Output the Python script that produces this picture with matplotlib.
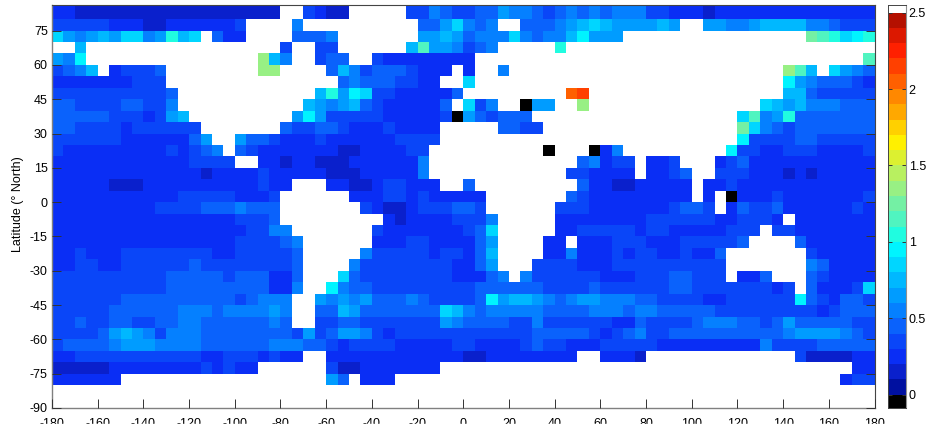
#!/usr/bin/env python
import re
import numpy as np
import matplotlib
matplotlib.use("Agg")
import matplotlib.pyplot as plt
from matplotlib.colors import ListedColormap, BoundaryNorm
from matplotlib.patches import Rectangle

plt.rcParams['font.family'] = ['Liberation Sans', 'DejaVu Sans']
plt.rcParams['axes.unicode_minus'] = False

# cells are 5 degrees wide, written as runs: "3c" = three cells of level c
# '.' = land, '#' = below zero, a = 0-0.1, b = 0.1-0.2, c = 0.2-0.3, ...
# rows run from the north (80-90) to the south (-80 to -75)
west_cells = [
    "2c18b2.dc", "5d3c2b6cd4.f2.", "igfghg2ifgkhi.e2c4.3e", "2.h17.d2.d",
    "gfj15.nhf2.d", "defh.c3de8.2n4.", "7c3d14.", "10de12.h",
    "2e4d2e2df11.hg", "5e3dcdgh9.gjg", "2e4dc6d7.e2de", "6d6ceg2.g2ed3cd",
    "d9cdcdef.ed6c", "12c4d2.2cb2cb", "13cb4cd5c", "5c3b10cd2c3.",
    "11c5d3cd4.", "9c4d3ef3e4.", "16c3de4.", "17c2d2f3.",
    "16c4def2.", "2cd3c8d2c5de2.", "2c2d2c6de8de2.", "10d5ed3e2ce2.",
    "10d9e2cf2.", "6d10ede3f2.g", "5d6e3fe4fgf2.e", "2de2d2e2d2e2f6efe2.d",
    "4deghgfd3f8edgd", "d4ef3g4f6e3f2e", "2c11d2c3dcd2c2.", "5b8cdcd2c6.",
    "6c18.",
]
middle_cells = [
    "2b5.2dfe2d2eg2fedefef", "8.2egifef2.3efghi", "f7.2ghge2ffife2fhjg", "d6.hl2gfdef5.k3.",
    "2e2.d8c11.", "ehfd3ed3c.c2.f8.", ".ef3e2d2c2.i11.", "kgji2d5ce9.uv.",
    "fghed5ce.idf2.#2g2.n.", "5d5cd#ged3e6.", "ed3cd4c5.2e2d5.", "6c4d14.",
    "c2b4c2d10.#3.#", "2b6cf13.ef", "3b5cf12.2dc", "2c2bc2d3c2.e9.ec",
    "2.3c2dcd5c7.edc", "3.dc2bc3d2ed6.3dc", "5.cb4c3df5.4c", "4.d7cdei5.2c2d",
    "4.3c2d4ceg4.2c.2c", "3.f5dc2dceh4.2cf2c", "2.f8d2ceg3.4d2c", ".ie8d3cef.f6d",
    "jf2e9d6e4de", "fgfg3efe4dejg2hgfef2g", "ehg7eihfe5f4ef", "d2e7dgf4e2df5d",
    "e2gfdc12d5ed", "dc4d5c2d4cde2d3c", "12c2b8c2.", "d2b7c14.",
    "ge.3c18.",
]
east_cells = [
    "e3f2d3cb14c", "h4ghg2.2g2fg4h2fe3d", "2g16.mlkijk", "24.",
    "23.l", "16.nlh.igfe", "16.jgf3edc", "16.2he5d",
    "14.ihgh3f3e", "12.ilfgk7e", "12.mifed7e", "12.j4d2e5d",
    "cf9.j2d2c3d4cd", "c2d.2cd3.cde11c", "3c.2cde2.3d3cbcb5c", "c2b5c.2cd12c",
    "8c.c.#3cd7cd", "6cd2ed.ce2de6cdc", "4c6d2c3dc.7c", "3dc2d5c3d.2d7c",
    "c3d3c5de4.e6c", "cdc2d2cd2ce7.d5c", "c10d7.fe4c", "3c3d2e3d.2ce3.ed4c",
    "6d2e7dcd.e3cdi", "3f2e4d2c6djedc2ed", "2fe2f5e9dcd3e", "d2ce4de3f2edeg5e2d",
    "cdef2d10ef4gfed", "5d9cf4d5e", "3cb13.d4b2c", "22.2c",
    "21.c2d",
]

colorbar_ticks = [0, 0.5, 1, 1.5, 2, 2.5]
colorbar_labels = ['0', '0.5', '1', '1.5', '2', '2.5']
level_colors = ['#000000', '#0010a0', '#0a20cc', '#0a2ef5', '#0a46f8', '#0a62fc', '#0580ff',
                '#009cff', '#00b8ff', '#00d6ff', '#00f4ff', '#20fce0', '#50f4c0', '#74f0a4',
                '#98f084', '#b8f060', '#dcf030', '#fff000', '#ffd000', '#ffa800', '#ff8800',
                '#ff6000', '#ff4000', '#ff2000', '#dc1800', '#b41000']
level_edges = np.arange(-1, 26) / 10
level_centers = (level_edges[:-1] + level_edges[1:]) / 2
codes = '#abcdefghijklmnopqrstuvwxy'


def expand(runs):
    out = ''
    for count, c in re.findall(r'(\d*)([a-z#.])', runs):
        out += c * int(count or 1)
    if len(out) != 24:
        raise ValueError(runs + ' gives ' + str(len(out)))
    return out


rows = [expand(w) + expand(m) + expand(e) for w, m, e in zip(west_cells, middle_cells, east_cells)]
values = np.array([[np.nan if c == '.' else level_centers[codes.index(c)] for c in r] for r in rows])

lon_edges = np.arange(-180, 181, 5)
lat_edges = np.concatenate([[90], np.arange(80, -81, -5)])

cmap = ListedColormap(level_colors)
cmap.set_bad('white')
norm = BoundaryNorm(level_edges, cmap.N)

W, H = 930, 428
fig = plt.figure(figsize=(W / 100, H / 100), dpi=100)
ax = fig.add_axes([52 / W, 1 - 408 / H, (874.5 - 52) / W, (408 - 5) / H])
ax.pcolormesh(lon_edges, lat_edges, np.ma.masked_invalid(values), cmap=cmap, norm=norm)
ax.set_xlim(-180, 180)
ax.set_ylim(-90, 86.2)
ax.set_xticks(np.arange(-180, 181, 20))
ax.set_yticks(np.arange(-90, 76, 15))
ax.tick_params(axis='both', direction='in', length=6.5, width=0.7, color='#333333',
               labelsize=9, pad=3, right=True)
ax.tick_params(axis='x', pad=7)
ax.set_axisbelow(False)
for s in ['left', 'bottom']:
    ax.spines[s].set_color('#808080')
    ax.spines[s].set_linewidth(1.0)
for s in ['right', 'top']:
    ax.spines[s].set_color('#444444')
    ax.spines[s].set_linewidth(0.8)
fig.text(18 / W, 1 - 204 / H, 'Latitude (° North)', rotation=90, fontsize=9, ha='center', va='center')

cax = fig.add_axes([888 / W, 1 - 408 / H, 18 / W, (408 - 5) / H])
cax.pcolormesh([0, 1], level_edges, level_centers.reshape(-1, 1), cmap=cmap, norm=norm)
cax.set_ylim(-0.087, 2.55)
cax.set_xticks([])
cax.set_yticks(colorbar_ticks)
cax.set_yticklabels(colorbar_labels)
cax.yaxis.tick_right()
cax.tick_params(axis='y', direction='in', length=3, width=0.7, color='#333333', labelsize=9, pad=2,
                left=True, right=True)
for s in ['left', 'top', 'bottom']:
    cax.spines[s].set_color('#444444')
    cax.spines[s].set_linewidth(0.7)
cax.spines['right'].set_color('#909090')

# the bottom of the tick labels is cut off in the source image
fig.add_artist(Rectangle((0, 0), 1, 4 / H, transform=fig.transFigure, color='white', zorder=10))

fig.savefig('out.png', dpi=100)
